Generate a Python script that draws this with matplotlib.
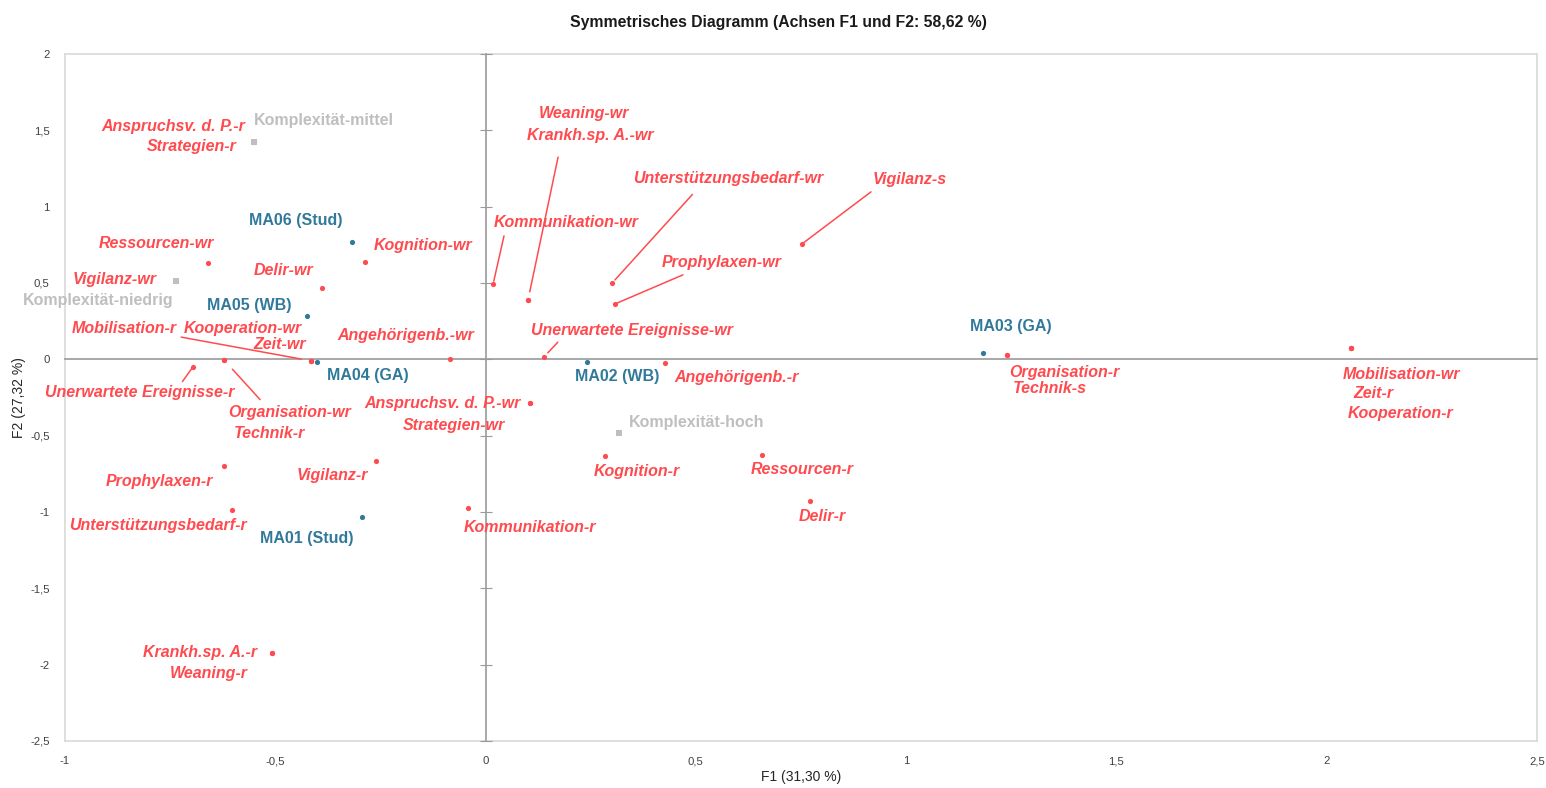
import matplotlib
matplotlib.use("Agg")
import matplotlib.pyplot as plt

plt.rcParams["font.family"] = ["Liberation Sans", "DejaVu Sans"]

# ---- Correspondence analysis coordinates (F1, F2) ----
row_names = ["MA06 (Stud)", "MA05 (WB)", "MA04 (GA)", "MA01 (Stud)", "MA02 (WB)", "MA03 (GA)"]
row_f1 = [-0.318, -0.425, -0.401, -0.294, 0.241, 1.183]
row_f2 = [0.769, 0.284, -0.017, -1.032, -0.017, 0.042]

col_names = [
    "Anspruchsv. d. P.-r", "Strategien-r", "Ressourcen-wr", "Vigilanz-wr", "Delir-wr",
    "Kognition-wr", "Mobilisation-r", "Kooperation-wr", "Zeit-wr", "Angehörigenb.-wr",
    "Unerwartete Ereignisse-r", "Organisation-wr", "Technik-r", "Prophylaxen-r",
    "Vigilanz-r", "Unterstützungsbedarf-r", "Kommunikation-r", "Krankh.sp. A.-r",
    "Weaning-r", "Anspruchsv. d. P.-wr", "Strategien-wr", "Weaning-wr",
    "Krankh.sp. A.-wr", "Kommunikation-wr", "Unterstützungsbedarf-wr", "Vigilanz-s",
    "Prophylaxen-wr", "Unerwartete Ereignisse-wr", "Angehörigenb.-r", "Kognition-r",
    "Ressourcen-r", "Delir-r", "Organisation-r", "Technik-s", "Mobilisation-wr",
    "Zeit-r", "Kooperation-r",
]
col_f1 = [
    -0.551, -0.551, -0.660, -0.736, -0.389,
    -0.287, -0.415, -0.415, -0.415, -0.085,
    -0.696, -0.622, -0.622, -0.622,
    -0.261, -0.603, -0.042, -0.508,
    -0.508, 0.106, 0.106, 0.101,
    0.101, 0.018, 0.301, 0.752,
    0.308, 0.139, 0.427, 0.284,
    0.657, 0.771, 1.240, 1.240, 2.058,
    2.058, 2.058,
]
col_f2 = [
    1.424, 1.424, 0.631, 0.513, 0.468,
    0.638, -0.010, -0.010, -0.010, 0.003,
    -0.050, -0.004, -0.004, -0.698,
    -0.665, -0.986, -0.973, -1.922,
    -1.922, -0.285, -0.285, 0.389,
    0.389, 0.494, 0.500, 0.755,
    0.363, 0.016, -0.024, -0.633,
    -0.626, -0.927, 0.029, 0.029, 0.075,
    0.075, 0.075,
]

sup_names = ["Komplexität-mittel", "Komplexität-niedrig", "Komplexität-hoch"]
sup_f1 = [-0.551, -0.736, 0.317]
sup_f2 = [1.424, 0.513, -0.482]

title = "Symmetrisches Diagramm (Achsen F1 und F2: 58,62 %)"
xlabel = "F1 (31,30 %)"
ylabel = "F2 (27,32 %)"
xticks = [-1, -0.5, 0, 0.5, 1, 1.5, 2, 2.5]
yticks = [-2.5, -2, -1.5, -1, -0.5, 0, 0.5, 1, 1.5, 2]

# ---- Styling ----
RED = "#FF4B4F"
BLUE = "#31799B"
GRAY = "#BFBFBF"
AXIS = "#9A9A9A"
FRAME = "#D9D9D9"

# label placement: offset in pixels (dx, dy up), horizontal alignment, leader line
# leader = (relpos_x, relpos_y, shrinkA, shrinkB) or None
col_layout = {
    "Anspruchsv. d. P.-r": (-9, 15, "right", None),
    "Strategien-r": (-17, -5, "right", None),
    "Ressourcen-wr": (-52, 20, "center", None),
    "Vigilanz-wr": (-19, 2, "right", None),
    "Delir-wr": (-9, 17, "right", None),
    "Kognition-wr": (9, 16, "left", None),
    "Mobilisation-r": (-134, 32, "right", (1.0, 0.0, 1, 7)),
    "Kooperation-wr": (-9, 32, "right", None),
    "Zeit-wr": (-5, 16, "right", None),
    "Angehörigenb.-wr": (-44, 23, "center", None),
    "Unerwartete Ereignisse-r": (-53, -26, "center", (0.71, 1.0, 1, 1)),
    "Organisation-wr": (66, -53, "center", (0.30, 1.0, 3, 9)),
    "Technik-r": (46, -74, "center", None),
    "Prophylaxen-r": (-11, -16, "right", None),
    "Vigilanz-r": (-8, -15, "right", None),
    "Unterstützungsbedarf-r": (-74, -16, "center", None),
    "Kommunikation-r": (62, -20, "center", None),
    "Krankh.sp. A.-r": (-15, 0, "right", None),
    "Weaning-r": (-24, -21, "right", None),
    "Anspruchsv. d. P.-wr": (-9, -1, "right", None),
    "Strategien-wr": (-25, -23, "right", None),
    "Weaning-wr": (56, 186, "center", None),
    "Krankh.sp. A.-wr": (62, 164, "center", (0.27, 0.0, 8, 6)),
    "Kommunikation-wr": (73, 61, "center", (0.08, 0.0, 2, 2)),
    "Unterstützungsbedarf-wr": (116, 104, "center", (0.35, 0.0, 5, 3)),
    "Vigilanz-s": (108, 65, "center", (0.07, 0.0, 3, 2)),
    "Prophylaxen-wr": (107, 41, "center", (0.26, 0.0, 3, 1)),
    "Unerwartete Ereignisse-wr": (88, 26, "center", (0.15, 0.0, 1, 4)),
    "Angehörigenb.-r": (9, -15, "left", None),
    "Kognition-r": (32, -16, "center", None),
    "Ressourcen-r": (40, -15, "center", None),
    "Delir-r": (13, -16, "center", None),
    "Organisation-r": (2, -18, "left", None),
    "Technik-s": (6, -34, "left", None),
    "Mobilisation-wr": (50, -27, "center", None),
    "Zeit-r": (22, -46, "center", None),
    "Kooperation-r": (49, -66, "center", None),
}
row_layout = {
    "MA06 (Stud)": (-9, 21, "right"),
    "MA05 (WB)": (-15, 10, "right"),
    "MA04 (GA)": (10, -14, "left"),
    "MA01 (Stud)": (-55, -22, "center"),
    "MA02 (WB)": (30, -15, "center"),
    "MA03 (GA)": (28, 26, "center"),
}
sup_layout = {
    "Komplexität-mittel": (0, 21, "left"),
    "Komplexität-niedrig": (-3, -19, "right"),
    "Komplexität-hoch": (10, 10, "left"),
}

W, H = 1546, 788
fig = plt.figure(figsize=(W / 100, H / 100), dpi=100)
rect = [65 / W, 47 / H, 1472 / W, 687 / H]

# frame axes carrying the tick labels at the border
frame = fig.add_axes(rect)
frame.set_xlim(-1, 2.5)
frame.set_ylim(-2.5, 2)
frame.set_xticks(xticks)
frame.set_yticks(yticks)
fmt = lambda v: ("%g" % v).replace(".", ",")
frame.set_xticklabels([fmt(v) for v in xticks])
frame.set_yticklabels([fmt(v) for v in yticks])
frame.tick_params(length=0, pad=11, labelsize=8.2, colors="#404040")
for s in frame.spines.values():
    s.set_color(FRAME)
    s.set_linewidth(1.2)
frame.set_xlabel(xlabel, fontsize=10, color="#262626", labelpad=3)
frame.set_ylabel(ylabel, fontsize=10, color="#262626", labelpad=3)

# main axes with the axes crossing at zero
ax = fig.add_axes(rect, sharex=frame, sharey=frame)
ax.patch.set_alpha(0)
for side in ["top", "right"]:
    ax.spines[side].set_visible(False)
ax.spines["left"].set_position(("data", 0))
ax.spines["bottom"].set_position(("data", 0))
for side in ["left", "bottom"]:
    ax.spines[side].set_color(AXIS)
    ax.spines[side].set_linewidth(1.2)
ax.tick_params(axis="y", direction="inout", length=8, width=0.8, color=AXIS,
               labelleft=False)
ax.tick_params(axis="x", length=0, labelbottom=False)

# points
ax.scatter(col_f1, col_f2, s=14, color=RED, zorder=3, linewidths=0)
ax.scatter(row_f1, row_f2, s=14, color=BLUE, zorder=3, linewidths=0)
ax.scatter(sup_f1, sup_f2, s=18, color=GRAY, marker="s", zorder=4, linewidths=0)

lab_kw = dict(textcoords="offset pixels", va="center", fontsize=11.5,
              fontweight="bold", annotation_clip=False)

for name, x, y in zip(col_names, col_f1, col_f2):
    dx, dy, ha, leader = col_layout[name]
    props = None
    if leader is not None:
        rx, ry, sa, sb = leader
        props = dict(arrowstyle="-", color=RED, lw=1.1, relpos=(rx, ry),
                     shrinkA=sa, shrinkB=sb)
    ax.annotate(name, (x, y), xytext=(dx, dy), ha=ha, color=RED,
                fontstyle="italic", arrowprops=props, **lab_kw)

for name, x, y in zip(row_names, row_f1, row_f2):
    dx, dy, ha = row_layout[name]
    ax.annotate(name, (x, y), xytext=(dx, dy), ha=ha, color=BLUE, **lab_kw)

for name, x, y in zip(sup_names, sup_f1, sup_f2):
    dx, dy, ha = sup_layout[name]
    ax.annotate(name, (x, y), xytext=(dx, dy), ha=ha, color=GRAY, **lab_kw)

fig.text(778 / W, 1 - 22 / H, title, ha="center", va="center",
         fontsize=11.3, fontweight="bold", color="#1a1a1a")

fig.savefig("out.png", dpi=100)
